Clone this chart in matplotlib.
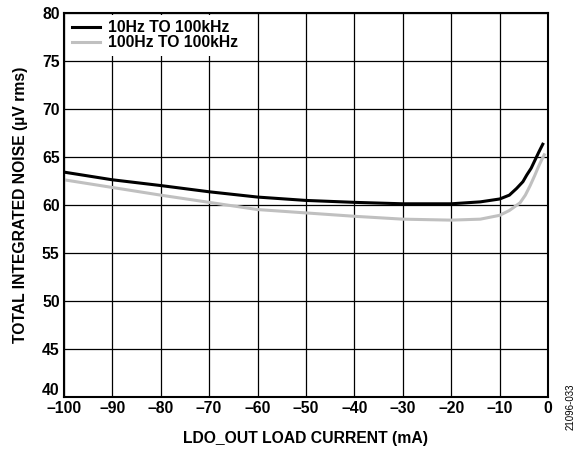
import matplotlib
matplotlib.use('Agg')
from matplotlib import pyplot as plt
from matplotlib.transforms import ScaledTranslation

plt.rcParams['font.family'] = ['Liberation Sans', 'DejaVu Sans']
plt.rcParams['font.weight'] = 'bold'

x_10hz = [-100, -90, -80, -70, -60, -50, -40, -30, -20, -14, -10, -8, -6.5, -5.2, -4.4, -3.5, -2.7, -1.9, -1.1]
y_10hz = [63.4, 62.6, 62.0, 61.35, 60.8, 60.45, 60.25, 60.1, 60.1, 60.3, 60.6, 61.0, 61.7, 62.4, 63.1, 63.8, 64.65, 65.5, 66.3]

x_100hz = [-100, -90, -80, -70, -60, -50, -40, -30, -20, -14, -10, -8, -5.8, -4.7, -3.7, -2.8, -2.0, -1.4, -0.8]
y_100hz = [62.6, 61.8, 61.0, 60.25, 59.5, 59.15, 58.8, 58.5, 58.4, 58.5, 58.9, 59.4, 60.2, 61.0, 62.0, 63.0, 63.95, 64.6, 65.2]

labels = ['10Hz TO 100kHz', '100Hz TO 100kHz']
xticks = list(range(-100, 1, 10))
xtick_labels = ['–%d' % -v if v < 0 else '0' for v in xticks]
yticks = list(range(40, 81, 5))

fs = 11.3

fig = plt.figure(figsize=(5.8, 4.5), dpi=100)
ax = fig.add_axes([0.110, 0.118, 0.835, 0.854])

ax.plot(x_10hz, y_10hz, color='black', lw=2.2, label=labels[0])
ax.plot(x_100hz, y_100hz, color='#c0c0c0', lw=2.2, label=labels[1])

ax.set_xlim(-100, 0)
ax.set_ylim(40, 80)
ax.set_xticks(xticks)
ax.set_xticklabels(xtick_labels)
ax.set_yticks(yticks)
ax.grid(True, color='black', lw=0.9)
ax.tick_params(length=0, labelsize=fs, pad=3)
for s in ax.spines.values():
    s.set_linewidth(1.5)

# lift the bottom y label so it clears the -100 label
lab40 = ax.get_yticklabels()[0]
lab40.set_transform(lab40.get_transform() + ScaledTranslation(0, 6 / 72, fig.dpi_scale_trans))

ax.set_xlabel('LDO_OUT LOAD CURRENT (mA)', fontsize=fs, fontweight='bold', labelpad=11)
ax.set_ylabel('TOTAL INTEGRATED NOISE (µV rms)', fontsize=fs, fontweight='bold', labelpad=10)

leg = ax.legend(loc='upper left', frameon=True, fancybox=False, edgecolor='none',
                fontsize=fs, handlelength=1.8, borderaxespad=0.15,
                labelspacing=0.0, handletextpad=0.5, borderpad=0.35)
leg.get_frame().set_alpha(1)

fig.text(0.983, 0.095, '21096-033', rotation=90, fontsize=7, fontweight='normal',
         ha='center', va='center')

fig.savefig('out.png', dpi=100)
